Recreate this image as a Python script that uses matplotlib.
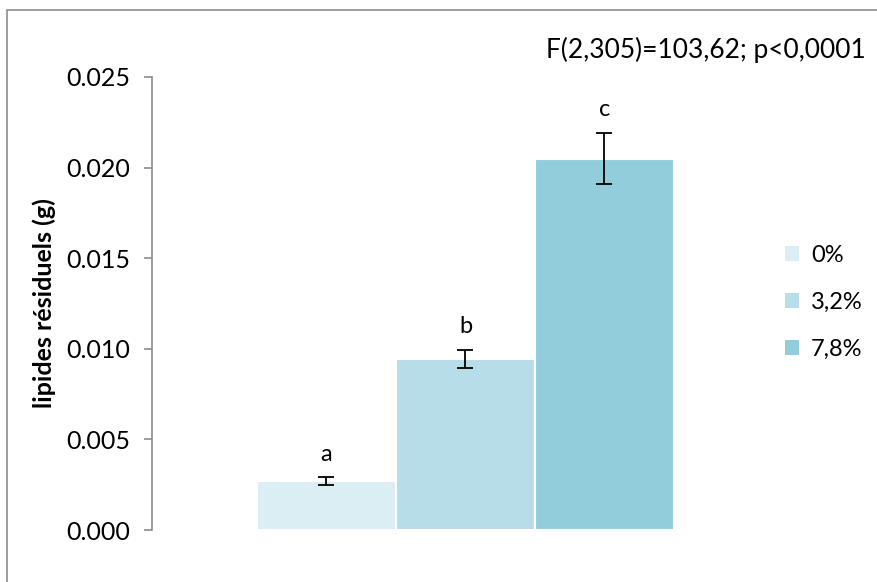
import matplotlib.pyplot as plt
from matplotlib.patches import Rectangle, Patch

plt.rcParams['font.family'] = ['Lato', 'DejaVu Sans']

groups = ['0%', '3,2%', '7,8%']
means = [0.0027, 0.00945, 0.0205]
errors = [0.0002, 0.0005, 0.0014]
letters = ['a', 'b', 'c']
colors = ['#DAEEF3', '#B7DDE8', '#92CDDC']
stats_text = 'F(2,305)=103,62; p<0,0001'

fig = plt.figure(figsize=(8.77, 5.82), dpi=100)
W, H = 877, 582

# outer chart frame (Excel style)
fig.patches.append(Rectangle((7 / W, -0.1), 1.2, 1 - 10 / H + 0.1,
                             transform=fig.transFigure, fill=False,
                             edgecolor='#8c8c8c', linewidth=1.2))

ax = fig.add_axes([152 / W, 1 - 530 / H, (780 - 152) / W, (530 - 77) / H])

x = [0, 1, 2]
ax.bar(x, means, width=1.0, color=colors, edgecolor='white', linewidth=1.5)
ax.errorbar(x, means, yerr=errors, fmt='none', ecolor='black',
            elinewidth=1.3, capsize=6, capthick=1.3)
for xi, m, e, lab in zip(x, means, errors, letters):
    ax.text(xi, m + e + 0.0007, lab, ha='center', va='bottom', fontsize=17)

ax.set_xlim(-1.255, 3.263)
ax.set_ylim(0, 0.025)
ax.set_yticks([0, 0.005, 0.010, 0.015, 0.020, 0.025])
ax.set_yticklabels(['0.000', '0.005', '0.010', '0.015', '0.020', '0.025'])
ax.set_xticks([])
for s in ['top', 'right', 'bottom']:
    ax.spines[s].set_visible(False)
ax.spines['left'].set_color('#8c8c8c')
ax.spines['left'].set_linewidth(1.2)
ax.tick_params(axis='y', direction='out', length=6, width=1.2,
               color='#8c8c8c', labelsize=18, pad=10)
ax.set_ylabel('lipides résiduels (g)', fontsize=18, fontweight='bold')
ax.yaxis.set_label_coords((56 - 152) / (780 - 152), 0.5)

handles = [Patch(facecolor=c, edgecolor='none') for c in colors]
fig.legend(handles, groups, loc='center left', bbox_to_anchor=(764 / W, 1 - 302 / H),
           frameon=False, fontsize=17, handlelength=0.6, handleheight=0.6,
           handletextpad=0.5, labelspacing=1.1)

fig.text(866 / W, 1 - 50 / H, stats_text, ha='right', va='center', fontsize=19)

fig.savefig('out.png', dpi=100)
